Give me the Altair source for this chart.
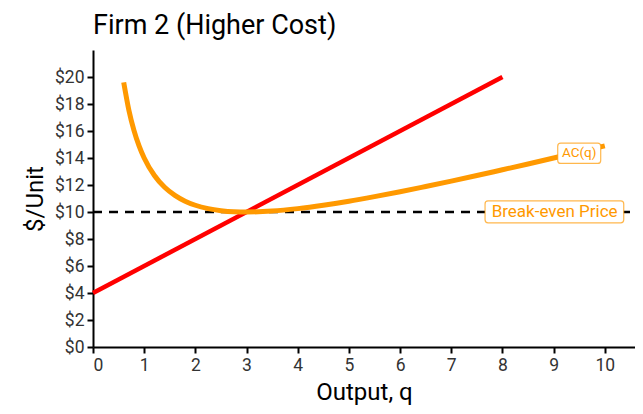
import altair as alt
import pandas as pd

FONT = "Roboto"

# Average cost curve AC(q)
ac_q = [0.6, 0.7, 0.8, 0.9, 1.0, 1.2, 1.4, 1.6, 1.8, 2.0, 2.25, 2.5, 2.75, 3.0,
        3.5, 4.0, 4.5, 5.0, 5.5, 6.0, 6.5, 7.0, 7.5, 8.0, 8.5, 9.0, 9.5, 10.0]
ac_v = [19.6, 17.56, 16.05, 14.9, 14.0, 12.7, 11.83, 11.23, 10.8, 10.5, 10.25, 10.1, 10.02, 10.0,
        10.07, 10.25, 10.5, 10.8, 11.14, 11.5, 11.89, 12.29, 12.7, 13.13, 13.56, 14.0, 14.45, 14.9]

# Marginal cost line MC(q)
mc_q = [0, 8]
mc_v = [4, 20]

# Break-even price
be_price = 10
x_max = 10.59

# Labels
lab_text = ["AC(q)", "Break-even Price"]
lab_x = [9.5, 9.02]
lab_y = [14.35, 10.0]
lab_x1 = [9.08, 7.66]
lab_x2 = [9.92, 10.37]
lab_y1 = [13.6, 9.2]
lab_y2 = [15.1, 10.82]
lab_size = [13.5, 17]

ORANGE = "#FF9900"
RED = "#FF0000"

ac_df = pd.DataFrame({"q": ac_q, "v": ac_v})
mc_df = pd.DataFrame({"q": mc_q, "v": mc_v})
be_df = pd.DataFrame({"q": [0, x_max], "v": [be_price, be_price]})
lab_df = pd.DataFrame({"t": lab_text, "x": lab_x, "y": lab_y, "x1": lab_x1, "x2": lab_x2,
                       "y1": lab_y1, "y2": lab_y2, "s": lab_size})

xs = alt.Scale(domain=[0, x_max], nice=False)
ys = alt.Scale(domain=[0, 22], nice=False)

xax = alt.Axis(values=list(range(0, 11)), title="Output, q", grid=False, labelOverlap=False)
yax = alt.Axis(values=list(range(0, 21, 2)), title="$/Unit", grid=False, labelOverlap=False,
               labelExpr="'$' + datum.value")

X = lambda f: alt.X(f, scale=xs, axis=xax)
Y = lambda f: alt.Y(f, scale=ys, axis=yax)

be = alt.Chart(be_df).mark_line(color="black", strokeWidth=2.5, strokeDash=[9, 7]).encode(
    x=X("q:Q"), y=Y("v:Q"))
mc = alt.Chart(mc_df).mark_line(color=RED, strokeWidth=4.5).encode(
    x=X("q:Q"), y=Y("v:Q"))
ac = alt.Chart(ac_df).mark_line(color=ORANGE, strokeWidth=5, interpolate="monotone").encode(
    x=X("q:Q"), y=Y("v:Q"))
boxes = alt.Chart(lab_df).mark_rect(fill="white", stroke=ORANGE, strokeWidth=1.2, cornerRadius=3,
                                    strokeOpacity=0.7).encode(
    x=X("x1:Q"), x2="x2:Q", y=Y("y1:Q"), y2="y2:Q")
texts = alt.Chart(lab_df).mark_text(color=ORANGE, font=FONT, align="center", baseline="middle").encode(
    x=X("x:Q"), y=Y("y:Q"), text="t:N",
    size=alt.Size("s:Q", scale=None, legend=None))

chart = alt.layer(be, mc, ac, boxes, texts).properties(
    width=542, height=297,
    title=alt.TitleParams("Firm 2 (Higher Cost)", anchor="start", frame="group", fontSize=27,
                          font=FONT, fontWeight="normal", color="black", offset=10),
    autosize=alt.AutoSizeParams(type="none"),
    padding={"left": 85, "top": 42, "right": 0, "bottom": 62},
).configure_view(stroke=None).configure_axis(
    labelFont=FONT, titleFont=FONT, labelFontSize=17.5, titleFontSize=24, titleFontWeight="normal",
    labelColor="#333333", titleColor="black", domainColor="black", domainWidth=2,
    tickColor="black", tickWidth=2, tickSize=6, labelPadding=3,
).configure_axisY(titlePadding=7).configure_axisX(titlePadding=7)

chart.save("out.html", embed_options={"renderer": "svg", "actions": False})
